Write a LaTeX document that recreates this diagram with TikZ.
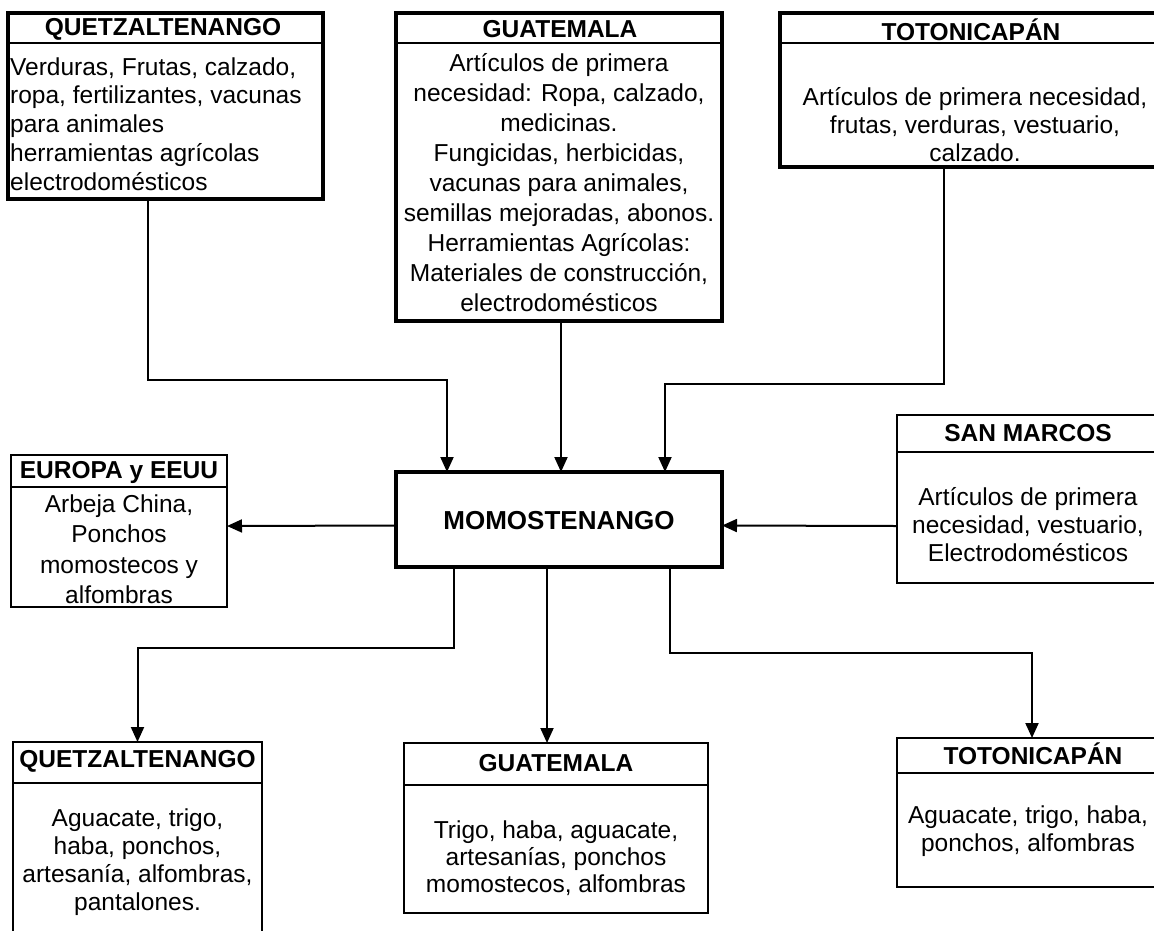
\documentclass[tikz,border=0pt]{standalone}
\usepackage{fontspec}
\setmainfont{Liberation Sans}
\usetikzlibrary{arrows.meta}
\tikzset{
  thickbox/.style={draw, line width=3.2pt, inner sep=0pt, outer sep=0pt},
  thinbox/.style={draw, line width=1.6pt, inner sep=0pt, outer sep=0pt},
  head/.style={font=\fontsize{24.5}{28}\selectfont\bfseries, inner sep=0pt},
  body/.style={font=\fontsize{24.5}{28}\selectfont, align=center, inner sep=0pt},
  link/.style={line width=2pt},
  arrowlink/.style={link, -{Triangle[length=15pt,width=13pt]}}
}

\begin{document}
\begin{tikzpicture}[x=1pt,y=-1pt]
            \useasboundingbox (0,0) rectangle (1154,930);
            \clip (0,0) rectangle (1154,930);
            \fill[white] (0,0) rectangle (1154,930);
            % boxes
            \node[thickbox, minimum width=315pt, minimum height=186pt] (qzin) at (165.5,106) {};
            \node[thickbox, minimum width=326pt, minimum height=308pt] (guain) at (559,167) {};
            \node[thickbox, minimum width=384pt, minimum height=154pt] (toin) at (972,90) {};
            \node[thickbox, minimum width=326pt, minimum height=95pt] (momo) at (559,519.5) {};
            \node[thinbox, minimum width=216pt, minimum height=152pt] (eu) at (119,531) {};
            \node[thinbox, minimum width=262pt, minimum height=168pt] (sm) at (1028,499) {};
            \node[thinbox, minimum width=249pt, minimum height=218pt] (qzout) at (137.5,851) {};
            \node[thinbox, minimum width=304pt, minimum height=170pt] (guaout) at (556,828) {};
            \node[thinbox, minimum width=265pt, minimum height=149pt] (toout) at (1029.5,812.5) {};
            \foreach \b/\d in {qzin/30pt,guain/30pt,toin/30pt,eu/32pt,sm/37pt,qzout/41pt,guaout/42pt,toout/35pt}{
                \draw[line width=1.8pt] ([yshift=-\d]\b.north west) -- ([yshift=-\d]\b.north east);
            }
            % titles
            \node[head] (qzinh) at (163,29.5) {QUETZALTENANGO};
            \node[head] (guainh) at (560,29.5) {GUATEMALA};
            \node[head] (toinh) at (971,29.5) {TOTONICAPÁN};
            \node[head, font=\fontsize{26}{30}\selectfont\bfseries] (momot) at (559,521) {MOMOSTENANGO};
            \node[head] (euh) at (119,472) {EUROPA y EEUU};
            \node[head] (smh) at (1028,433) {SAN MARCOS};
            \node[head] (qzouth) at (137.5,761) {QUETZALTENANGO};
            \node[head] (guaouth) at (556,763) {GUATEMALA};
            \node[head] (toouth) at (1033,754) {TOTONICAPÁN};
            % texts
            \node[body, align=left, anchor=west, font=\fontsize{24.5}{28.8}\selectfont] (qzint) at (10,124)
                {Verduras, Frutas, calzado,\\ropa, fertilizantes, vacunas\\para animales\\herramientas agrícolas\\electrodomésticos};
            \node[body, font=\fontsize{24.5}{30}\selectfont] (guaint) at (559,182.5)
                {Artículos de primera\\necesidad: Ropa, calzado,\\medicinas.\\Fungicidas, herbicidas,\\vacunas para animales,\\semillas mejoradas, abonos.\\Herramientas Agrícolas:\\Materiales de construcción,\\electrodomésticos};
            \node[body] (toint) at (975,125)
                {Artículos de primera necesidad,\\frutas, verduras, vestuario,\\calzado.};
            \node[body, font=\fontsize{24.5}{30.5}\selectfont] (eut) at (119,549)
                {Arbeja China,\\Ponchos\\momostecos y\\alfombras};
            \node[body] (smt) at (1028,524.5)
                {Artículos de primera\\necesidad, vestuario,\\Electrodomésticos};
            \node[body] (qzoutt) at (137.5,862)
                {Aguacate, trigo,\\haba, ponchos,\\artesanía, alfombras,\\pantalones.};
            \node[body, font=\fontsize{24.5}{27}\selectfont] (guaoutt) at (556,858.5)
                {Trigo, haba, aguacate,\\artesanías, ponchos\\momostecos, alfombras};
            \node[body] (tooutt) at (1028,831.5)
                {Aguacate, trigo, haba,\\ponchos, alfombras};
            % connectors
            \draw[arrowlink] ([xshift=-17.5pt]qzin.south) -- ++(0,181) -| ([xshift=-112pt]momo.north);
            \draw[arrowlink] ([xshift=2pt]guain.south) -- ([xshift=2pt]momo.north);
            \draw[arrowlink] ([xshift=-28pt]toin.south) -- ++(0,217) -| ([xshift=106pt]momo.north);
            \draw[arrowlink] ([yshift=-27pt]sm.west) -- ([yshift=-6pt]momo.east);
            \draw[arrowlink] ([yshift=-6pt]momo.west) -- ([yshift=5pt]eu.east);
            \draw[arrowlink] ([xshift=-105pt]momo.south) -- ++(0,81) -| (qzout.north);
            \draw[arrowlink] ([xshift=-12pt]momo.south) -- ([xshift=-9pt]guaout.north);
            \draw[arrowlink] ([xshift=111pt]momo.south) -- ++(0,86) -| ([xshift=2.5pt]toout.north);
\end{tikzpicture}
\end{document}
